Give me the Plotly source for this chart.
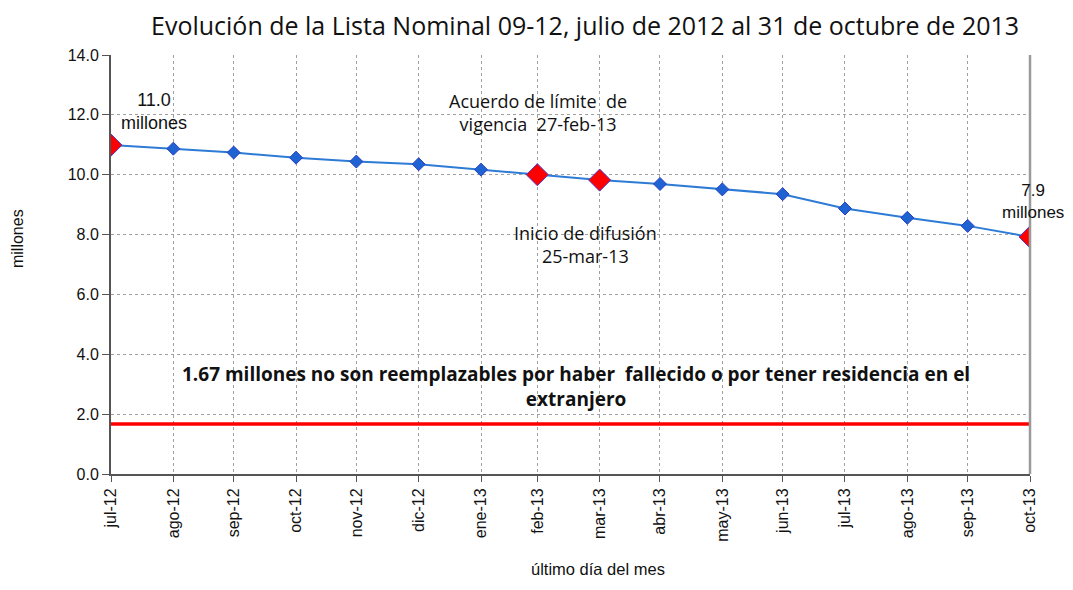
import plotly.graph_objects as go

# Data
fechas = ["2012-07-31", "2012-08-31", "2012-09-30", "2012-10-31", "2012-11-30", "2012-12-31",
          "2013-01-31", "2013-02-28", "2013-03-31", "2013-04-30", "2013-05-31", "2013-06-30",
          "2013-07-31", "2013-08-31", "2013-09-30", "2013-10-31"]
etiquetas = ["jul-12", "ago-12", "sep-12", "oct-12", "nov-12", "dic-12", "ene-13", "feb-13",
             "mar-13", "abr-13", "may-13", "jun-13", "jul-13", "ago-13", "sep-13", "oct-13"]
lista_nominal = [10.99, 10.87, 10.74, 10.57, 10.44, 10.35, 10.17, 10.00,
                 9.82, 9.69, 9.51, 9.35, 8.87, 8.56, 8.29, 7.92]
destacados = [0, 7, 8, 15]
no_reemplazables = 1.67

# page body has an 8px margin: work in reference pixels, shift by OFF
OFF = 8
W, H = 1073 - 2 * OFF, 590 - 2 * OFF
L, R, T, B = 111 - OFF, 1030 - OFF, 54.5 - OFF, 474.5 - OFF


def px(x):
    return (x - OFF - L) / (R - L)


def py(y):
    return (B - (y - OFF)) / (B - T)


fig = go.Figure()

fig.add_trace(go.Scatter(
    x=fechas, y=[no_reemplazables] * len(fechas), mode="lines",
    line=dict(color="#FF0000", width=3.5), hoverinfo="skip", showlegend=False))

fig.add_trace(go.Scatter(
    x=fechas, y=lista_nominal, mode="lines+markers",
    line=dict(color="#2E7BD6", width=2),
    marker=dict(symbol="diamond", size=10, color="#1F63D2",
                line=dict(color="#2A3FC0", width=1)),
    showlegend=False))

fig.add_trace(go.Scatter(
    x=[fechas[i] for i in destacados], y=[lista_nominal[i] for i in destacados],
    mode="markers",
    marker=dict(symbol="diamond", size=17, color="#FF0000",
                line=dict(color="#4A3FD0", width=1)),
    showlegend=False))

txt_font = dict(family="Open Sans, Noto Sans, sans-serif", size=18, color="#111111")
arial = dict(family="Liberation Sans, Arial, sans-serif", size=18, color="#111111")
arial_r = dict(family="Liberation Sans, Arial, sans-serif", size=17, color="#111111")
tickf = dict(family="Liberation Sans, Arial, sans-serif", size=16, color="#111111")

annos = [
    dict(x=px(154), y=py(111), text="11.0<br>millones", font=arial),
    dict(x=px(538), y=py(112), text="Acuerdo de límite  de<br>vigencia  27-feb-13", font=txt_font),
    dict(x=px(585), y=py(244), text="Inicio de difusión<br>25-mar-13", font=txt_font),
    dict(x=px(1033), y=py(201), text="7.9<br>millones", font=arial_r),
    dict(x=px(576), y=py(387),
         text="<b>1.67 millones no son reemplazables por haber  fallecido o por tener residencia en el<br>extranjero</b>",
         font=dict(family="Open Sans, Noto Sans, sans-serif", size=19, color="#111111")),
    dict(x=px(17), y=py(239), text="millones", textangle=-90,
         font=dict(family="Liberation Sans, Arial, sans-serif", size=16, color="#111111")),
    dict(x=px(598), y=py(570), text="último día del mes",
         font=dict(family="Liberation Sans, Arial, sans-serif", size=16.5, color="#111111")),
    dict(x=px(585), y=py(24),
         text="Evolución de la Lista Nominal 09-12, julio de 2012 al 31 de octubre de 2013",
         font=dict(family="Open Sans, Noto Sans, sans-serif", size=25, color="#111111")),
]
for a in annos:
    fig.add_annotation(xref="paper", yref="paper", showarrow=False, xanchor="center",
                       yanchor="middle", align="center", borderpad=0, **a)

fig.add_shape(type="line", xref="paper", yref="paper", x0=1, x1=1, y0=0, y1=1,
              line=dict(color="#9A9A9A", width=2.5))

fig.update_layout(
    width=W, height=H,
    margin=dict(l=L, r=W - R, t=T, b=H - B, autoexpand=False),
    paper_bgcolor="white", plot_bgcolor="white",
    xaxis=dict(type="date", range=[fechas[0], fechas[-1]], tickvals=fechas, ticktext=etiquetas,
               tickangle=-90, tickfont=tickf, ticks="outside", ticklen=6, tickcolor="#555555",
               showgrid=True, gridcolor="#A0A0A0", griddash="dot", gridwidth=1,
               showline=True, linecolor="#555555", linewidth=2, zeroline=False,
               automargin=False),
    yaxis=dict(range=[0, 14], tickvals=[0, 2, 4, 6, 8, 10, 12, 14], tickformat=".1f",
               tickfont=tickf, ticks="outside", ticklen=7, tickcolor="#555555",
               showgrid=True, gridcolor="#A0A0A0", griddash="dot", gridwidth=1,
               showline=True, linecolor="#555555", linewidth=2, zeroline=False,
               automargin=False),
)

fig.write_html("out.html")
